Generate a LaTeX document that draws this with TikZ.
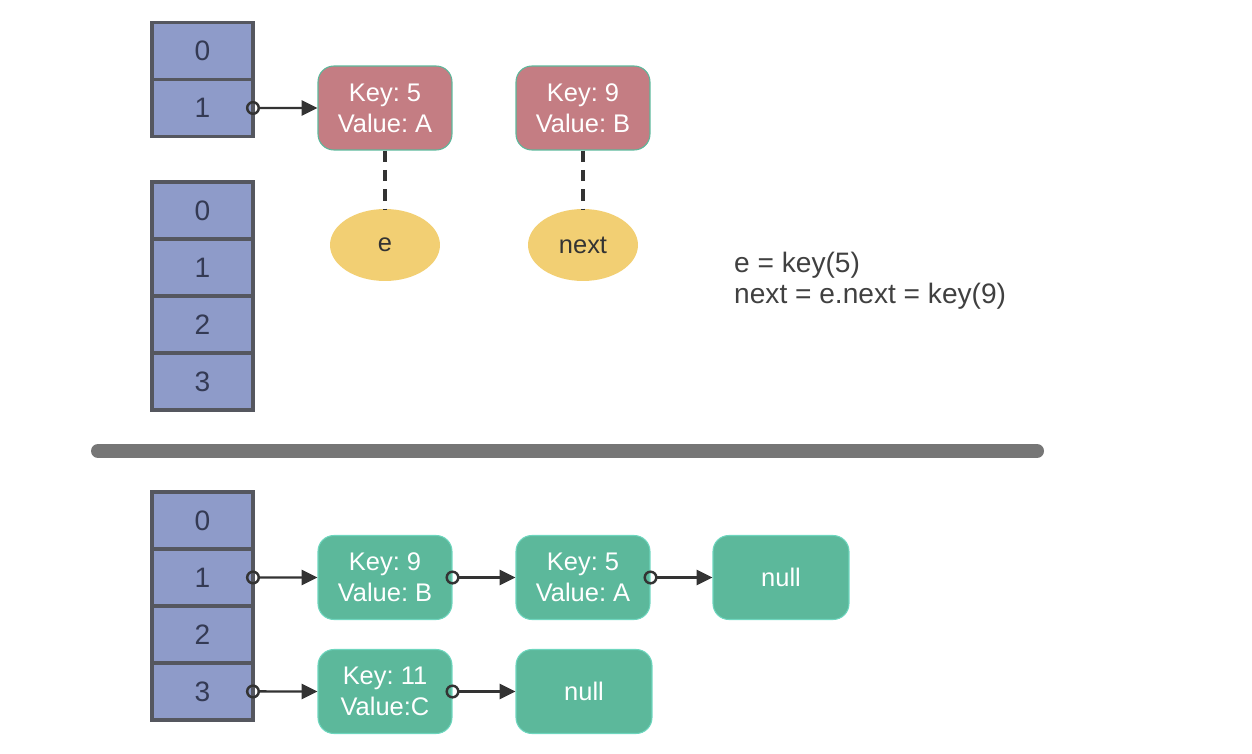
\documentclass[tikz,border=0pt]{standalone}
\usepackage{fontspec}
\setmainfont{Liberation Sans}
\frenchspacing
\usetikzlibrary{positioning,arrows.meta,shapes.geometric}

\definecolor{slotblue}{RGB}{142,155,201}
\definecolor{slotedge}{RGB}{85,87,95}
\definecolor{slottext}{RGB}{52,58,84}
\definecolor{oldred}{RGB}{196,125,131}
\definecolor{entrygreen}{RGB}{92,184,155}
\definecolor{entryedge}{RGB}{110,214,190}
\definecolor{refyellow}{RGB}{242,207,115}
\definecolor{bargray}{RGB}{118,118,118}

\tikzset{
  slot/.style={draw=slotedge, fill=slotblue, line width=2pt, minimum width=2.02cm,
    minimum height=1.14cm, outer sep=0pt, text=slottext, font=\fontsize{16}{18}\selectfont},
  entry/.style={rounded corners=9pt, minimum width=2.68cm, minimum height=1.68cm,
    align=center, text=white, line width=0.6pt, draw=entryedge,
    font=\fontsize{14.5}{17.5}\selectfont},
  oldentry/.style={entry, fill=oldred, draw=entrygreen},
  newentry/.style={entry, fill=entrygreen},
  refvar/.style={ellipse, fill=refyellow, minimum width=2.2cm, minimum height=1.44cm,
    text=black!80, font=\fontsize{14.5}{17}\selectfont},
  ptr/.style={{Circle[open,length=8pt,width=8pt]}-{Triangle[length=9pt,width=8.5pt]},
    line width=1.4pt, shorten <=-4pt, draw=black!80},
  refline/.style={line width=2.6pt, dash pattern=on 6.5pt off 4.5pt, draw=black!80}
}

\begin{document}
\begin{tikzpicture}[x=0.02cm,y=-0.02cm]
\useasboundingbox (0,0) rectangle (1252,754);

\node[slot] (t0) at (202.5,51) {0};
\node[slot, below=0pt of t0] (t1) {1};

\node[slot] (m0) at (202.5,210.5) {0};
\node[slot, below=0pt of m0] (m1) {1};
\node[slot, below=0pt of m1] (m2) {2};
\node[slot, below=0pt of m2] (m3) {3};

\node[oldentry] (old5) at (385,108) {Key: 5\\Value: A};
\node[oldentry] (old9) at (583,108) {Key: 9\\Value: B};
\node[refvar] (e) at (385,245) {e};
\node[refvar] (next) at (583,245) {next};

\draw[ptr] (t1.east) -- (old5.west);
\draw[refline] (old5) -- (e);
\draw[refline] (old9) -- (next);

\node[anchor=west, align=left, text=black!75, font=\fontsize{16}{17.6}\selectfont] (code) at (728,281)
  {e = key(5)\\next = e.next = key(9)};

\draw[bargray, line width=0.28cm, line cap=round] (98,451) -- (1037,451);

\node[slot] (b0) at (202.5,520.5) {0};
\node[slot, below=0pt of b0] (b1) {1};
\node[slot, below=0pt of b1] (b2) {2};
\node[slot, below=0pt of b2] (b3) {3};

\node[newentry] (new9) at (385,577.5) {Key: 9\\Value: B};
\node[newentry] (new5) at (583,577.5) {Key: 5\\Value: A};
\node[newentry, minimum width=2.72cm] (null1) at (781,577.5) {null};
\node[newentry] (new11) at (385,691.5) {Key: 11\\Value:C};
\node[newentry, minimum width=2.72cm] (null2) at (584,691.5) {null};

\draw[ptr] (b1.east) -- (new9.west);
\draw[ptr] (new9.east) -- (new5.west);
\draw[ptr] (new5.east) -- (null1.west);
\draw[ptr] (b3.east) -- (new11.west);
\draw[ptr] (new11.east) -- (null2.west);
\end{tikzpicture}
\end{document}
